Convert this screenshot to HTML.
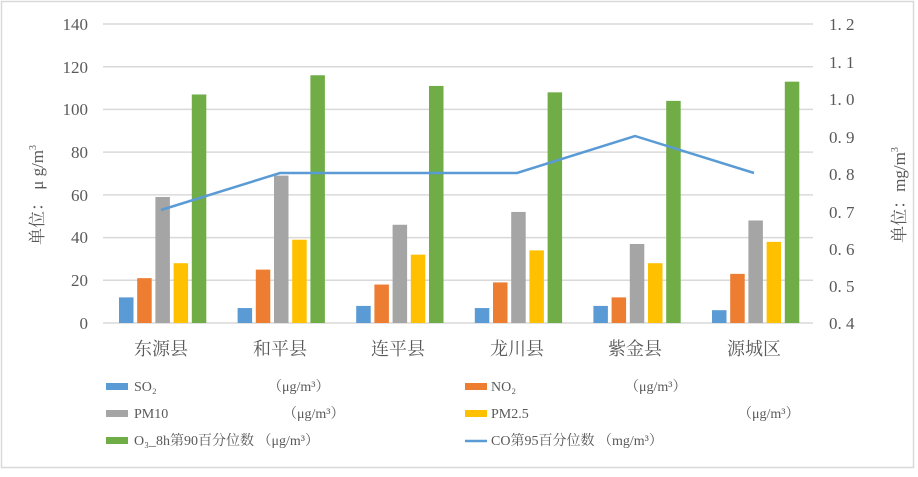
<!DOCTYPE html>
<html><head><meta charset="utf-8"><style>
body{margin:0;background:#fff}
svg text{font-family:"Liberation Serif","Noto Serif CJK SC",serif;fill:#595959}
</style></head><body>
<svg width="918" height="472" viewBox="0 0 918 472" xmlns="http://www.w3.org/2000/svg">
<rect x="0" y="0" width="918" height="472" fill="#fff"/>
<rect x="1.5" y="1.5" width="912" height="466" fill="none" stroke="#d9d9d9" stroke-width="1.5"/>
<g stroke="#d9d9d9" stroke-width="1.5">
<line x1="103" x2="813" y1="24" y2="24"/><line x1="103" x2="813" y1="66.7" y2="66.7"/>
<line x1="103" x2="813" y1="109.4" y2="109.4"/><line x1="103" x2="813" y1="152.1" y2="152.1"/>
<line x1="103" x2="813" y1="194.9" y2="194.9"/><line x1="103" x2="813" y1="237.6" y2="237.6"/>
<line x1="103" x2="813" y1="280.3" y2="280.3"/><line x1="103" x2="813" y1="323" y2="323"/>
</g>
<g font-size="17" text-anchor="end">
<text x="88" y="30">140</text><text x="88" y="73">120</text><text x="88" y="115">100</text>
<text x="88" y="158">80</text><text x="88" y="201">60</text><text x="88" y="243">40</text>
<text x="88" y="286">20</text><text x="88" y="329">0</text>
</g>
<g font-size="17">
<text x="829" y="30">1. 2</text><text x="829" y="68">1. 1</text><text x="829" y="105">1. 0</text>
<text x="829" y="143">0. 9</text><text x="829" y="180">0. 8</text><text x="829" y="218">0. 7</text>
<text x="829" y="255">0. 6</text><text x="829" y="292">0. 5</text><text x="829" y="329">0. 4</text>
</g>
<text transform="translate(43,195) rotate(-90)" font-size="17" text-anchor="middle">单位：  μ g/m<tspan font-size="10" dy="-7">3</tspan></text>
<text transform="translate(905,195) rotate(-90)" font-size="17" text-anchor="middle">单位：mg/m<tspan font-size="10" dy="-7">3</tspan></text>
<g id="bars"></g>
<g font-size="18" text-anchor="middle">
<text x="161" y="355">东源县</text><text x="280" y="355">和平县</text><text x="398" y="355">连平县</text>
<text x="517" y="355">龙川县</text><text x="635" y="355">紫金县</text><text x="754" y="355">源城区</text>
</g>
<polyline fill="none" stroke="#5b9bd5" stroke-width="2.5" points="161,210 280,173 398,173 517,173 635,136 754,173"/>
<g font-size="14">
<rect x="106" y="383" width="22" height="7" fill="#5b9bd5"/><text x="134" y="391">SO₂</text><text x="268" y="391">（μg/m³）</text>
<rect x="465" y="383" width="22" height="7" fill="#ed7d31"/><text x="491" y="391">NO₂</text><text x="625" y="391">（μg/m³）</text>
<rect x="106" y="410" width="22" height="7" fill="#a5a5a5"/><text x="134" y="418">PM10</text><text x="283" y="418">（μg/m³）</text>
<rect x="465" y="410" width="22" height="7" fill="#ffc000"/><text x="491" y="418">PM2.5</text><text x="738" y="418">（μg/m³）</text>
<rect x="106" y="437" width="22" height="7" fill="#70ad47"/><text x="134" y="445">O₃_8h第90百分位数 （μg/m³）</text>
<line x1="465" x2="487" y1="441" y2="441" stroke="#5b9bd5" stroke-width="2.5"/><text x="491" y="445">CO第95百分位数  （mg/m³）</text>
</g>
</svg>
<script>
var d=[[12,7,8,7,8,6],[21,25,18,19,12,23],[59,69,46,52,37,48],[28,39,32,34,28,38],[107,116,111,108,104,113]];
var c=["#5b9bd5","#ed7d31","#a5a5a5","#ffc000","#70ad47"];
var g=document.getElementById("bars"),s="";
for(var i=0;i<6;i++){var cx=161+118.6*i;for(var k=0;k<5;k++){var v=d[k][i],h=v*299/140;
s+='<rect x="'+(cx-42+k*18.2)+'" y="'+(323-h)+'" width="14.5" height="'+h+'" fill="'+c[k]+'"/>';}}
g.innerHTML=s;
</script>
</body></html>
